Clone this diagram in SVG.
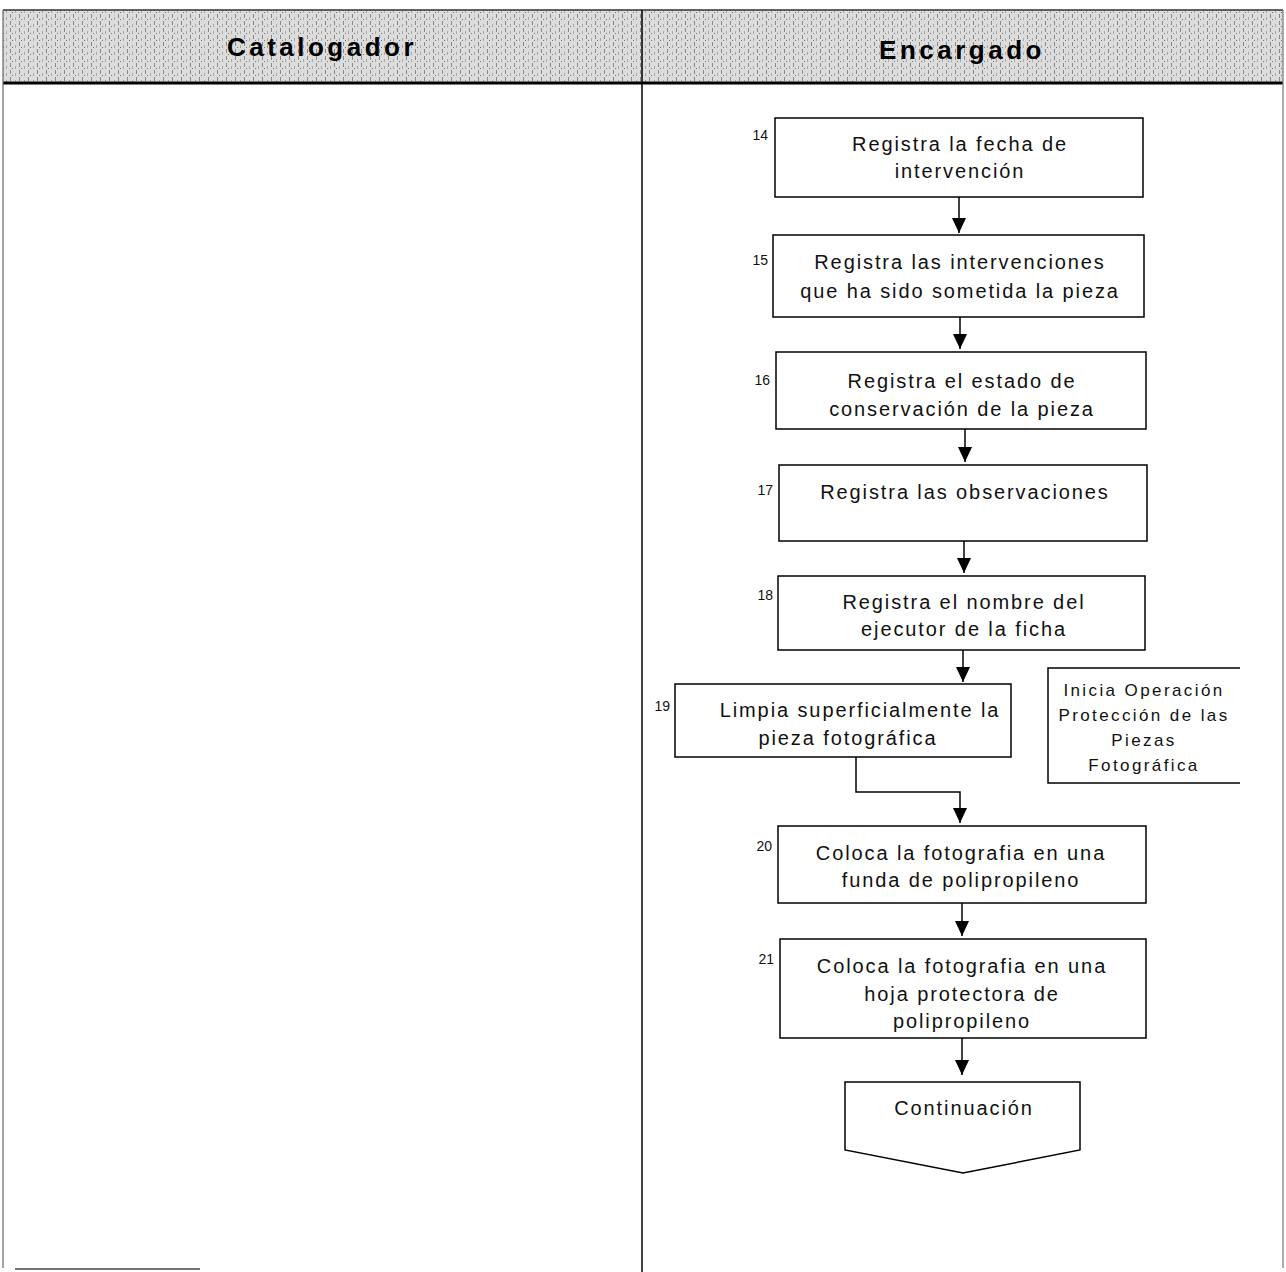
<svg xmlns="http://www.w3.org/2000/svg" width="1286" height="1272" viewBox="0 0 1286 1272">
<defs>
<marker id="ah" markerUnits="userSpaceOnUse" markerWidth="16" markerHeight="14" refX="15" refY="7" orient="auto" viewBox="0 0 16 14">
<path d="M0,0 L15,7 L0,14 Z" fill="#000"/>
</marker>
<pattern id="tex" width="9" height="7" patternUnits="userSpaceOnUse">
<rect width="9" height="7" fill="#dcdcdc"/>
<rect x="1" y="0" width="1" height="4" fill="#8a8a8a"/>
<rect x="6" y="3" width="1" height="3" fill="#a8a8a8"/>
<rect x="3" y="5" width="1" height="1" fill="#777"/>
</pattern>
</defs>
<style>
.box{fill:#fff;stroke:#000;stroke-width:1.5}
.t{font-family:"Liberation Sans",Arial,sans-serif;font-size:20px;letter-spacing:1.9px;fill:#111;text-anchor:middle}
.n{font-family:"Liberation Sans",Arial,sans-serif;font-size:14px;fill:#111;text-anchor:end}
.h{font-family:"Liberation Sans",Arial,sans-serif;font-size:26px;font-weight:bold;letter-spacing:3.5px;fill:#000;text-anchor:middle}
.nt{font-family:"Liberation Sans",Arial,sans-serif;font-size:17px;letter-spacing:2.4px;fill:#111;text-anchor:middle}
.c{fill:none;stroke:#000;stroke-width:1.5}
</style>
<rect width="1286" height="1272" fill="#fff"/>
<g id="lanes">
<rect x="3" y="10" width="1280" height="73" fill="url(#tex)"/>
<line x1="3" y1="10" x2="1283" y2="10" stroke="#333" stroke-width="1.5"/>
<line x1="3" y1="83" x2="1283" y2="83" stroke="#000" stroke-width="3"/>
<line x1="3" y1="10" x2="3" y2="1268" stroke="#666" stroke-width="1.2"/>
<line x1="1283" y1="10" x2="1283" y2="1268" stroke="#777" stroke-width="1.2"/>
<line x1="642" y1="10" x2="642" y2="1272" stroke="#000" stroke-width="1.5"/>
<line x1="15" y1="1269" x2="200" y2="1269" stroke="#444" stroke-width="1.5"/>
<text class="h" x="322" y="56">Catalogador</text>
<text class="h" x="962" y="59">Encargado</text>
</g>
<g id="connectors">
<line class="c" x1="959" y1="197" x2="959" y2="233" marker-end="url(#ah)"/>
<line class="c" x1="960" y1="317" x2="960" y2="349" marker-end="url(#ah)"/>
<line class="c" x1="965" y1="429" x2="965" y2="462" marker-end="url(#ah)"/>
<line class="c" x1="964" y1="541" x2="964" y2="573" marker-end="url(#ah)"/>
<line class="c" x1="963" y1="650" x2="963" y2="682" marker-end="url(#ah)"/>
<polyline class="c" points="856,757 856,792 960,792 960,823" marker-end="url(#ah)"/>
<line class="c" x1="962" y1="903" x2="962" y2="936" marker-end="url(#ah)"/>
<line class="c" x1="962" y1="1038" x2="962" y2="1075" marker-end="url(#ah)"/>
</g>
<g id="n14">
<rect class="box" x="775" y="118" width="368" height="79"/>
<text class="n" x="768" y="140">14</text>
<text class="t" x="960" y="151">Registra la fecha de</text>
<text class="t" x="960" y="178">intervención</text>
</g>
<g id="n15">
<rect class="box" x="773" y="235" width="371" height="82"/>
<text class="n" x="768" y="265">15</text>
<text class="t" x="960" y="269">Registra  las intervenciones</text>
<text class="t" x="960" y="298">que ha sido sometida la pieza</text>
</g>
<g id="n16">
<rect class="box" x="776" y="352" width="370" height="77"/>
<text class="n" x="770" y="385">16</text>
<text class="t" x="962" y="388">Registra el estado de</text>
<text class="t" x="962" y="416">conservación de la pieza</text>
</g>
<g id="n17">
<rect class="box" x="779" y="465" width="368" height="76"/>
<text class="n" x="773" y="495">17</text>
<text class="t" x="965" y="499">Registra las observaciones</text>
</g>
<g id="n18">
<rect class="box" x="778" y="576" width="367" height="74"/>
<text class="n" x="773" y="600">18</text>
<text class="t" x="964" y="609">Registra el nombre del</text>
<text class="t" x="964" y="636">ejecutor de la ficha</text>
</g>
<g id="n19">
<rect class="box" x="675" y="684" width="336" height="73"/>
<text class="n" x="670" y="711">19</text>
<text class="t" x="860" y="717">Limpia superficialmente la</text>
<text class="t" x="848" y="745">pieza fotográfica</text>
</g>
<g id="note">
<polyline class="c" points="1240,668 1048,668 1048,783 1240,783" stroke-width="1.3"/>
<text class="nt" x="1144" y="696">Inicia Operación</text>
<text class="nt" x="1144" y="721">Protección de las</text>
<text class="nt" x="1144" y="746">Piezas</text>
<text class="nt" x="1144" y="771">Fotográfica</text>
</g>
<g id="n20">
<rect class="box" x="778" y="826" width="368" height="77"/>
<text class="n" x="772" y="851">20</text>
<text class="t" x="961" y="860">Coloca la fotografia en una</text>
<text class="t" x="961" y="887">funda de polipropileno</text>
</g>
<g id="n21">
<rect class="box" x="780" y="939" width="366" height="99"/>
<text class="n" x="774" y="964">21</text>
<text class="t" x="962" y="973">Coloca la fotografia en una</text>
<text class="t" x="962" y="1001">hoja protectora de</text>
<text class="t" x="962" y="1028">polipropileno</text>
</g>
<g id="cont">
<path class="box" d="M845,1082 L1080,1082 L1080,1150 L963,1173 L845,1150 Z"/>
<text class="t" x="964" y="1115">Continuación</text>
</g>
</svg>
